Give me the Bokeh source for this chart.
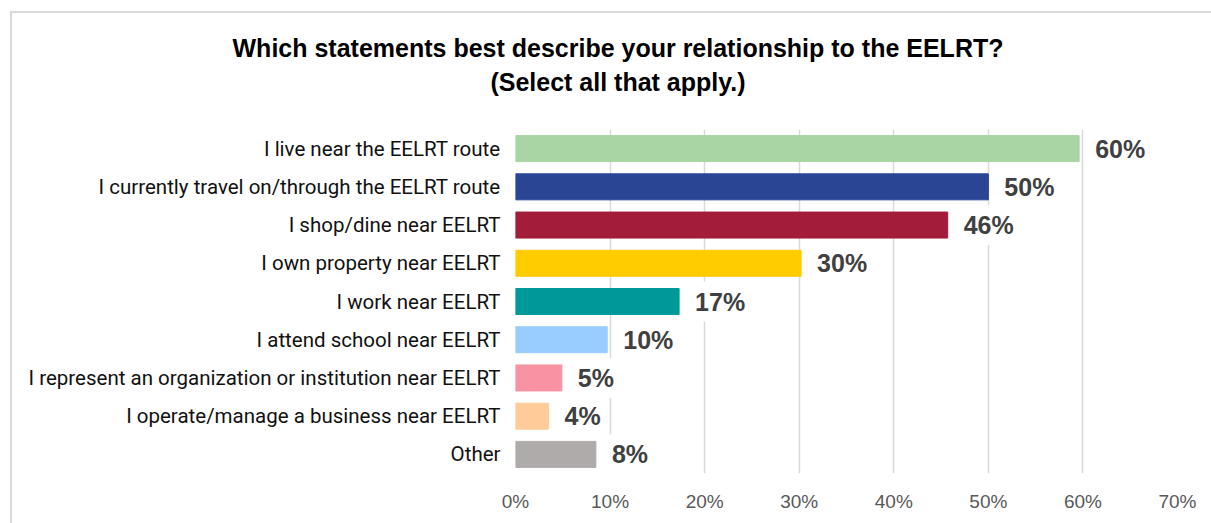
from bokeh.plotting import figure
from bokeh.models import Range1d, FactorRange, FixedTicker, ColumnDataSource, Div
from bokeh.layouts import column
from bokeh.core.properties import value
from bokeh.embed import file_html
from bokeh.resources import INLINE

categories = [
    "I live near the EELRT route",
    "I currently travel on/through the EELRT route",
    "I shop/dine near EELRT",
    "I own property near EELRT",
    "I work near EELRT",
    "I attend school near EELRT",
    "I represent an organization or institution near EELRT",
    "I operate/manage a business near EELRT",
    "Other",
]
values = [59.6, 50.0, 45.7, 30.2, 17.3, 9.7, 4.9, 3.5, 8.5]
value_labels = ["60%", "50%", "46%", "30%", "17%", "10%", "5%", "4%", "8%"]
colors = ["#A9D5A5", "#2B4595", "#A31D3A", "#FFCC00", "#00999A",
          "#99CCFF", "#F793A3", "#FFCC99", "#AFABAB"]
x_ticks = [0, 10, 20, 30, 40, 50, 60, 70]
x_tick_labels = {t: f"{t}%" for t in x_ticks}
title_lines = ["Which statements best describe your relationship to the EELRT?",
               "(Select all that apply.)"]

src = ColumnDataSource(dict(cat=categories, val=values, lab=value_labels, col=colors))

title_html = (
    '<div style="width:1186px;height:92px;padding-left:13px;padding-top:18px;'
    'box-sizing:content-box;text-align:center;font-family:\'Liberation Sans\';'
    'font-weight:bold;font-size:25px;line-height:34px;color:#000000;">'
    + "<br>".join(title_lines) + "</div>"
)
div = Div(text=title_html, width=1199, height=92, margin=0)

p = figure(width=1199, height=418, output_backend="svg", toolbar_location=None,
           x_range=Range1d(0, 70), y_range=FactorRange(factors=list(reversed(categories))),
           min_border_left=503, min_border_right=34, min_border_top=24, min_border_bottom=50,
           margin=0)
p.outline_line_color = None
p.background_fill_color = "white"
p.border_fill_color = "white"

p.hbar(y="cat", right="val", left=0, height=0.68, color="col", source=src)
p.text(x="val", y="cat", text="lab", source=src, x_offset=10,
       text_align="left", text_baseline="middle",
       text_font=value("Liberation Sans"), text_font_style="bold",
       text_font_size="25px", text_color="#404040",
       background_fill_color="white", padding=6)

p.xgrid.ticker = FixedTicker(ticks=x_ticks)
p.xgrid.grid_line_color = "#d9d9d9"
p.xgrid.grid_line_width = 1.5
p.ygrid.grid_line_color = None

p.xaxis.ticker = FixedTicker(ticks=x_ticks)
p.xaxis.major_label_overrides = x_tick_labels
p.xaxis.axis_line_color = None
p.xaxis.major_tick_line_color = None
p.xaxis.minor_tick_line_color = None
p.xaxis.major_tick_out = 0
p.xaxis.major_label_standoff = 17
p.xaxis.major_label_text_font = "Liberation Sans"
p.xaxis.major_label_text_font_size = "19px"
p.xaxis.major_label_text_color = "#595959"

p.yaxis.axis_line_color = None
p.yaxis.major_tick_line_color = None
p.yaxis.major_tick_out = 0
p.yaxis.major_label_standoff = 15
p.yaxis.major_label_text_font = "Roboto"
p.yaxis.major_label_text_font_size = "20.5px"
p.yaxis.major_label_text_color = "#111111"

layout = column(div, p, margin=(11, 0, 0, 10),
                styles={"border-top": "2px solid #d9d9d9",
                        "border-left": "2px solid #d9d9d9",
                        "background-color": "white"})

open("out.html", "w").write(file_html(layout, INLINE))
